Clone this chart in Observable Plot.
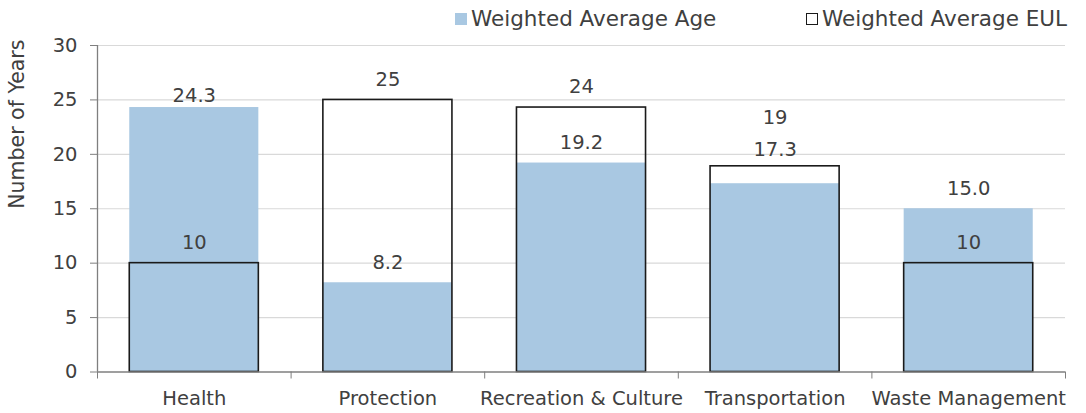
<!DOCTYPE html>
<html>
<head>
<meta charset="utf-8">
<script src="https://cdn.jsdelivr.net/npm/d3@7"></script>
<script src="https://cdn.jsdelivr.net/npm/@observablehq/plot@0.6"></script>
<style>
  html, body { margin: 0; padding: 0; background: #fff; }
  #chart { position: relative; width: 1086px; height: 413px; font-family: "DejaVu Sans", Verdana, sans-serif; color: #404040; }
  #chart svg { position: absolute; left: 0; top: 0; }
  .legend-item { position: absolute; top: 7px; display: flex; align-items: center; font-size: 21.5px; line-height: 24px; white-space: nowrap; }
  .swatch { width: 12px; height: 12px; margin-right: 4px; box-sizing: border-box; }
</style>
</head>
<body>
<div id="chart"></div>
<script>
// Asset classes and their weighted averages (years)
const categories = ["Health", "Protection", "Recreation & Culture", "Transportation", "Waste Management"];
const avgAge = [24.3, 8.2, 19.2, 17.3, 15.0];
const avgEUL = [10, 25, 24.3, 18.9, 10];
const yTicks = [0, 5, 10, 15, 20, 25, 30];
const seriesNames = ["Weighted Average Age", "Weighted Average EUL"];

const ageColor = "#a9c8e2";
const axisColor = "#7f7f7f";
const textColor = "#404040";

const rows = categories.map((category, i) => ({category, i, age: avgAge[i], eul: avgEUL[i]}));

// Bars fill the middle two thirds of each category slot
const inset = 1 / 6;
const barX1 = d => d.i + inset;
const barX2 = d => d.i + 1 - inset;
const mid = d => d.i + 0.5;

// Default lift of value labels above their bar top (px), with a few hand-placed exceptions
const lift = 20.5;
const ageLift = {"Health": 12, "Transportation": 33.5};
const eulLift = {"Transportation": 49};

const ageLabels = rows.map(r => Plot.text([r], {
  x: mid, y: "age", text: d => d.age.toFixed(1),
  dy: -(ageLift[r.category] ?? lift), fill: textColor
}));
const eulLabels = rows.map(r => Plot.text([r], {
  x: mid, y: "eul", text: d => d.eul.toFixed(0),
  dy: -(eulLift[r.category] ?? lift), fill: textColor
}));

const plot = Plot.plot({
  width: 1086,
  height: 413,
  marginTop: 45,
  marginBottom: 41.5,
  marginLeft: 97,
  marginRight: 21,
  style: {fontFamily: "DejaVu Sans, Verdana, sans-serif", fontSize: "19.5px", color: textColor, background: "transparent"},
  x: {domain: [0, categories.length]},
  y: {domain: [0, 30]},
  marks: [
    Plot.gridY(yTicks.filter(t => t > 0), {stroke: "#d9d9d9", strokeOpacity: 1, strokeWidth: 1.2}),
    Plot.rectY(rows, {x1: barX1, x2: barX2, y: "age", fill: ageColor}),
    Plot.rectY(rows, {x1: barX1, x2: barX2, y: "eul", fill: "none", stroke: "#1a1a1a", strokeWidth: 1.6}),
    Plot.ruleY([0], {stroke: axisColor, strokeWidth: 1.3}),
    Plot.ruleX([0], {stroke: axisColor, strokeWidth: 1.3}),
    Plot.axisY({ticks: yTicks, tickSize: 7, tickPadding: 13, stroke: axisColor, fill: textColor, label: null}),
    Plot.axisX({ticks: d3.range(categories.length + 1), tickSize: 7, tickFormat: () => "", stroke: axisColor, label: null}),
    Plot.axisX({ticks: categories.map((_, i) => i + 0.5), tickSize: 0, tickPadding: 19,
      tickFormat: t => categories[Math.floor(t)], fill: textColor, label: null}),
    Plot.text(["Number of Years"], {frameAnchor: "left", rotate: -90, dx: -80, fill: textColor, fontSize: 20.5}),
    ...ageLabels,
    ...eulLabels
  ]
});

const chart = document.getElementById("chart");
chart.appendChild(plot);

// Legend above the plot
const legend = [
  {name: seriesNames[0], left: 455, style: `background:${ageColor};`},
  {name: seriesNames[1], left: 806, style: "background:#fff;border:1.5px solid #1a1a1a;"}
];
for (const item of legend) {
  const el = document.createElement("div");
  el.className = "legend-item";
  el.style.left = item.left + "px";
  const sw = document.createElement("span");
  sw.className = "swatch";
  sw.setAttribute("style", item.style);
  const label = document.createElement("span");
  label.textContent = item.name;
  el.appendChild(sw);
  el.appendChild(label);
  chart.appendChild(el);
}
</script>
</body>
</html>
